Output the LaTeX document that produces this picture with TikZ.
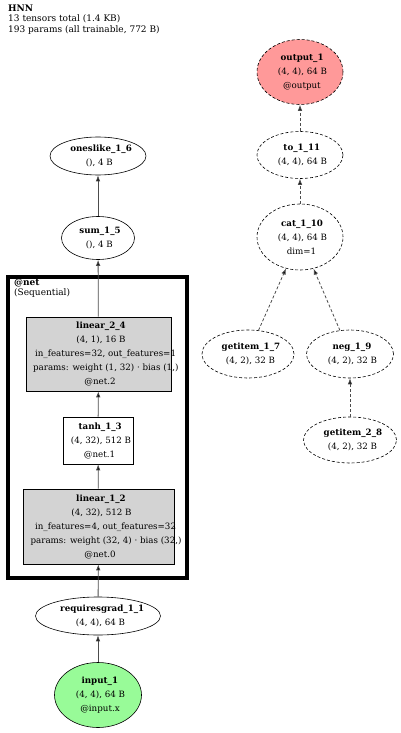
\documentclass[tikz,border=0pt]{standalone}
\usepackage{fontspec}
\setmainfont{DejaVu Serif}
\usetikzlibrary{shapes.geometric,arrows.meta}
\definecolor{outred}{RGB}{255,153,153}
\definecolor{ingreen}{RGB}{152,251,152}
\definecolor{lingray}{RGB}{211,211,211}
\newlength\zlw
\newcommand\zl[1]{\settowidth\zlw{#1}\makebox[0pt][l]{\hspace{-0.45\zlw}#1}}
\tikzset{
 every node/.style={font=\fontsize{8.7}{14}\selectfont, inner sep=0pt, align=center},
 ell/.style={ellipse, draw, line width=0.6pt},
 dell/.style={ell, dash pattern=on 3pt off 2pt},
 box/.style={rectangle, draw, line width=0.6pt},
 edge/.style={draw=black!70, line width=0.8pt, -{Latex[length=6pt,width=4.5pt,fill=black]}},
 dedge/.style={edge, dash pattern=on 3pt off 2pt},
 plain/.style={font=\fontsize{9}{10.5}\selectfont, align=left, anchor=north west},
}
\begin{document}
\begin{tikzpicture}[x=1pt,y=-1pt]
\useasboundingbox (0,0) rectangle (400,733);
\node[plain] (title) at (8,4.5) {\textbf{HNN}\\13 tensors total (1.4 KB)\\193 params (all trainable, 772 B)};
% cluster
\draw[line width=4pt] (8,277) rectangle (187,578);
\node[plain, font=\fontsize{9}{9.5}\selectfont] (netlbl) at (14,279) {\textbf{@net}\\(Sequential)};
% left column
\node[ell, minimum width=96pt, minimum height=38pt] (ones) at (98,156) {\zl{\textbf{oneslike\_1\_6}}\\\zl{(), 4 B}};
\node[ell, minimum width=73pt, minimum height=43pt] (sum) at (98,238) {\zl{\textbf{sum\_1\_5}}\\\zl{(), 4 B}};
\node[box, fill=lingray, minimum width=145pt, minimum height=74pt] (lin2) at (98.5,354) {\zl{\textbf{linear\_2\_4}}\\\zl{(4, 1), 16 B}\\\zl{in\_features=32, out\_features=1}\\\zl{params: weight (1, 32) · bias (1,)}\\\zl{@net.2}};
\node[box, minimum width=70pt, minimum height=47pt] (tanh) at (98,440.5) {\zl{\textbf{tanh\_1\_3}}\\\zl{(4, 32), 512 B}\\\zl{@net.1}};
\node[box, fill=lingray, minimum width=151pt, minimum height=75pt] (lin1) at (98.5,526.5) {\zl{\textbf{linear\_1\_2}}\\\zl{(4, 32), 512 B}\\\zl{in\_features=4, out\_features=32}\\\zl{params: weight (32, 4) · bias (32,)}\\\zl{@net.0}};
\node[ell, minimum width=125pt, minimum height=38pt] (rg) at (98,616) {\zl{\textbf{requiresgrad\_1\_1}}\\\zl{(4, 4), 64 B}};
\node[ell, fill=ingreen, minimum width=87pt, minimum height=65pt] (inp) at (98,695) {\zl{\textbf{input\_1}}\\\zl{(4, 4), 64 B}\\\zl{@input.x}};
% right column
\node[dell, fill=outred, minimum width=86pt, minimum height=65pt] (out) at (300,72) {\zl{\textbf{output\_1}}\\\zl{(4, 4), 64 B}\\\zl{@output}};
\node[dell, minimum width=86pt, minimum height=47pt] (to) at (300,155) {\zl{\textbf{to\_1\_11}}\\\zl{(4, 4), 64 B}};
\node[dell, minimum width=86pt, minimum height=66pt] (cat) at (300,237) {\zl{\textbf{cat\_1\_10}}\\\zl{(4, 4), 64 B}\\\zl{dim=1}};
\node[dell, minimum width=92pt, minimum height=48pt] (gi7) at (248,354) {\zl{\textbf{getitem\_1\_7}}\\\zl{(4, 2), 32 B}};
\node[dell, minimum width=87pt, minimum height=48pt] (neg) at (350,354) {\zl{\textbf{neg\_1\_9}}\\\zl{(4, 2), 32 B}};
\node[dell, minimum width=93pt, minimum height=46pt] (gi8) at (350,440) {\zl{\textbf{getitem\_2\_8}}\\\zl{(4, 2), 32 B}};
% edges
\draw[edge] (inp) -- (rg);
\draw[edge] (rg) -- (lin1);
\draw[edge] (lin1) -- (tanh);
\draw[edge] (tanh) -- (lin2);
\draw[edge] (lin2) -- (sum);
\draw[edge] (sum) -- (ones);
\draw[dedge] (to) -- (out);
\draw[dedge] (cat) -- (to);
\draw[dedge] (gi7) -- (cat);
\draw[dedge] (neg) -- (cat);
\draw[dedge] (gi8) -- (neg);
\end{tikzpicture}
\end{document}
